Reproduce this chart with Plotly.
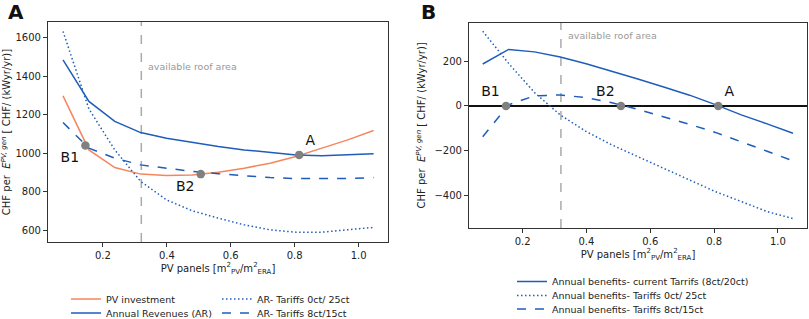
import plotly.graph_objects as go

# ---------------- data ----------------
pv_area = [0.075, 0.156, 0.237, 0.318, 0.399, 0.48, 0.561, 0.642, 0.723, 0.804, 0.885, 0.966, 1.047]

# Panel A (CHF per E_PV,gen)
pv_investment = [1298, 1017, 925, 891, 884, 887, 901, 922, 948, 983, 1026, 1069, 1118]
annual_revenues = [1485, 1269, 1165, 1107, 1078, 1055, 1035, 1017, 1003, 991, 986, 990, 997]
ar_tariff_0_25 = [1633, 1230, 1017, 853, 757, 700, 662, 627, 601, 589, 589, 601, 614]
ar_tariff_8_15 = [1159, 1026, 974, 939, 922, 905, 893, 882, 873, 868, 867, 868, 873]

# Panel B (annual benefits)
ben_current = [187, 252, 241, 218, 188, 155, 120, 84, 48, 6, -40, -80, -122]
ben_0_25 = [333, 190, 60, -40, -114, -174, -226, -278, -330, -382, -426, -471, -502]
ben_8_15 = [-137, 5, 45, 49, 37, 14, -15, -48, -82, -118, -159, -202, -245]

roof_area = 0.32
point_labels = ["B1", "B2", "A"]
points_x_A = [0.145, 0.506, 0.814]
points_y_A = [1040, 891, 991]
points_x_B = [0.148, 0.508, 0.813]
points_y_B = [0, 0, 0]

x_ticks = [0.2, 0.4, 0.6, 0.8, 1.0]
y_ticks_A = [600, 800, 1000, 1200, 1400, 1600]
y_ticks_B = [-400, -200, 0, 200]

# ---------------- styles ----------------
BLUE = "#1e5dba"
ORANGE = "#f4865e"
GREY = "#808080"
FONT = "DejaVu Sans"
DOT = "1.5px,2.5px"
W, H = 809, 319

def px(xp):
    return xp / W

def py(yp):
    return 1 - yp / H

fig = go.Figure()

# Panel A traces
fig.add_trace(go.Scatter(x=pv_area, y=pv_investment, mode="lines", name="PV investment",
                         line=dict(color=ORANGE, width=1.5), xaxis="x", yaxis="y", legend="legend"))
fig.add_trace(go.Scatter(x=pv_area, y=annual_revenues, mode="lines", name="Annual Revenues (AR)",
                         line=dict(color=BLUE, width=1.5), xaxis="x", yaxis="y", legend="legend2"))
fig.add_trace(go.Scatter(x=pv_area, y=ar_tariff_0_25, mode="lines", name="AR- Tariffs 0ct/ 25ct",
                         line=dict(color=BLUE, width=1.5, dash=DOT), xaxis="x", yaxis="y", legend="legend3"))
fig.add_trace(go.Scatter(x=pv_area, y=ar_tariff_8_15, mode="lines", name="AR- Tariffs 8ct/15ct",
                         line=dict(color=BLUE, width=1.5, dash="dash"), xaxis="x", yaxis="y", legend="legend4"))
fig.add_trace(go.Scatter(x=points_x_A, y=points_y_A, mode="markers+text", text=point_labels,
                         textposition=["bottom left", "bottom left", "top right"],
                         textfont=dict(family=FONT, size=14, color="#111"),
                         marker=dict(color=GREY, size=8.5), showlegend=False, xaxis="x", yaxis="y"))

# Panel B traces
fig.add_trace(go.Scatter(x=pv_area, y=ben_current, mode="lines",
                         name="Annual benefits- current Tarrifs (8ct/20ct)",
                         line=dict(color=BLUE, width=1.5), xaxis="x2", yaxis="y2", legend="legend5"))
fig.add_trace(go.Scatter(x=pv_area, y=ben_0_25, mode="lines",
                         name="Annual benefits- Tariffs 0ct/ 25ct",
                         line=dict(color=BLUE, width=1.5, dash=DOT), xaxis="x2", yaxis="y2", legend="legend6"))
fig.add_trace(go.Scatter(x=pv_area, y=ben_8_15, mode="lines",
                         name="Annual benefits- Tariffs 8ct/15ct",
                         line=dict(color=BLUE, width=1.5, dash="dash"), xaxis="x2", yaxis="y2", legend="legend7"))
fig.add_trace(go.Scatter(x=points_x_B, y=points_y_B, mode="markers+text", text=point_labels,
                         textposition=["top left", "top left", "top right"],
                         textfont=dict(family=FONT, size=14, color="#111"),
                         marker=dict(color=GREY, size=8.5), showlegend=False, xaxis="x2", yaxis="y2"))

axis_common = dict(showgrid=False, zeroline=False, showline=True, mirror=True, automargin=False,
                   linecolor="#333", linewidth=1.2, ticks="outside", ticklen=4,
                   tickcolor="#333", tickfont=dict(family=FONT, size=10, color="#222"))

xtitle = "PV panels [m<sup>2</sup><sub>PV</sub>/m<sup>2</sup><sub>ERA</sub>]"
ytitle = "CHF per  <i>E</i><sup><i>PV, gen</i></sup> [ CHF/ (kWyr/yr)]"

fig.update_layout(
    width=W, height=H,
    margin=dict(l=0, r=0, t=0, b=0, autoexpand=False),
    paper_bgcolor="white", plot_bgcolor="white",
    font=dict(family=FONT, size=10, color="#222"),
    xaxis=dict(domain=[px(48), px(388)], range=[0.028, 1.092], tickvals=x_ticks,
               ticktext=["0.2", "0.4", "0.6", "0.8", "1.0"],
               title=dict(text=xtitle, font=dict(size=10), standoff=4), anchor="y", **axis_common),
    yaxis=dict(domain=[py(242), py(22)], range=[538, 1682], tickvals=y_ticks_A,
               title=dict(text=ytitle, font=dict(size=10), standoff=6), anchor="x", **axis_common),
    xaxis2=dict(domain=[px(469), px(807)], range=[0.032, 1.091], tickvals=x_ticks,
                ticktext=["0.2", "0.4", "0.6", "0.8", "1.0"],
                title=dict(text=xtitle, font=dict(size=10), standoff=4), anchor="y2", **axis_common),
    yaxis2=dict(domain=[py(228), py(22.7)], range=[-544, 371], tickvals=y_ticks_B,
                ticktext=["\u2212400", "\u2212200", "0", "200"],
                title=dict(text=ytitle, font=dict(size=10), standoff=6), anchor="x2", **axis_common),
)

# roof area lines and zero line
fig.add_shape(type="line", xref="x", yref="y domain", x0=roof_area, x1=roof_area, y0=0, y1=1,
              line=dict(color="#aaaaaa", width=1.5, dash="dash"), layer="below")
fig.add_shape(type="line", xref="x2", yref="y2 domain", x0=roof_area, x1=roof_area, y0=0, y1=1,
              line=dict(color="#aaaaaa", width=1.5, dash="dash"), layer="below")
fig.add_shape(type="line", xref="x2 domain", yref="y2", x0=0, x1=1, y0=0, y1=0,
              line=dict(color="#111111", width=2), layer="below")

fig.add_annotation(text="available roof area", xref="x", yref="y", x=roof_area, y=1450,
                   xanchor="left", xshift=5, showarrow=False,
                   font=dict(family=FONT, size=9.5, color="#999999"))
fig.add_annotation(text="available roof area", xref="x2", yref="y2", x=roof_area, y=315,
                   xanchor="left", xshift=5, showarrow=False,
                   font=dict(family=FONT, size=9.5, color="#999999"))

# panel letters
fig.add_annotation(text="<b>A</b>", xref="paper", yref="paper", x=px(16), y=py(12),
                   xanchor="center", yanchor="middle",
                   showarrow=False, font=dict(family=FONT, size=20, color="#111"))
fig.add_annotation(text="<b>B</b>", xref="paper", yref="paper", x=px(429), y=py(12),
                   xanchor="center", yanchor="middle",
                   showarrow=False, font=dict(family=FONT, size=20, color="#111"))

# legends (one entry each, positioned to mimic the two-column/one-column layouts)
leg_font = dict(family=FONT, size=9.5, color="#222")
def leg(xp, yp):
    return dict(x=px(xp), y=py(yp), xanchor="left", yanchor="middle",
                bgcolor="rgba(0,0,0,0)", font=leg_font, itemwidth=30)

fig.update_layout(
    legend=leg(66, 299), legend2=leg(66, 313),
    legend3=leg(217, 299), legend4=leg(217, 313),
    legend5=leg(512, 281.5), legend6=leg(512, 295.5), legend7=leg(512, 309),
)

fig.write_html("out.html", config={"displayModeBar": False},
               post_script="document.body.style.margin='0px';")
